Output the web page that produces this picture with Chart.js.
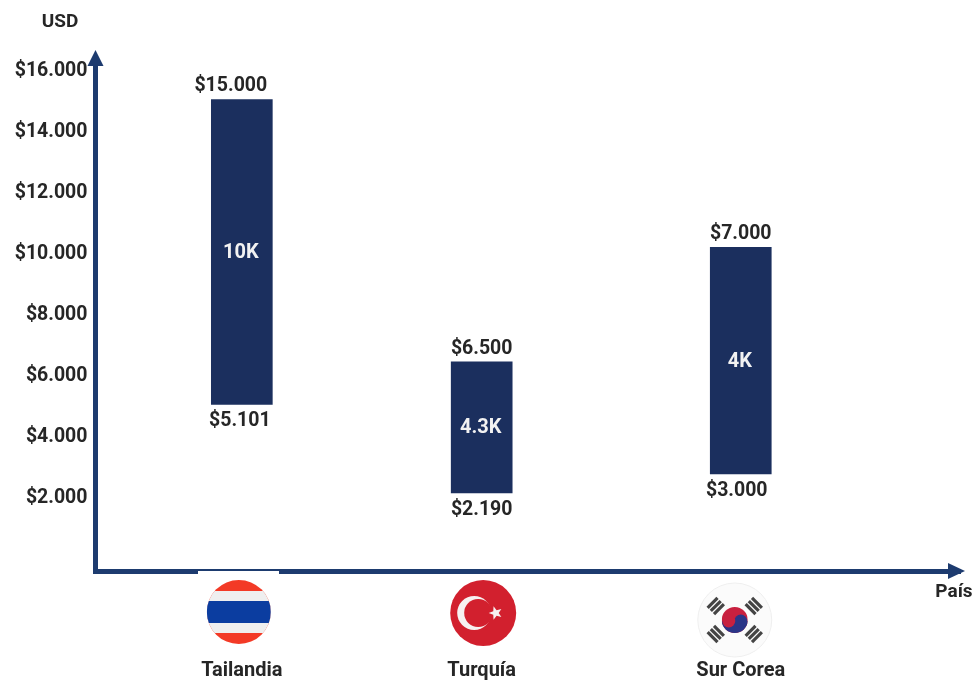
<!DOCTYPE html>
<html lang="es">
<head>
<meta charset="utf-8">
<title>Rango de precios por país</title>
<script src="https://cdn.jsdelivr.net/npm/chart.js@4/dist/chart.umd.min.js"></script>
<style>
  html, body { margin: 0; background: #fff; }
  #grafico { display: block; }
</style>
</head>
<body>
<canvas id="grafico" width="975" height="682"></canvas>
<script>
// Datos
const paises = ['Tailandia', 'Turquía', 'Sur Corea'];
const ordenX = [1, 2, 3.08];            // los paises no estan equidistantes
const barraMin = [5000, 2100, 2720];    // base de cada barra segun el eje
const barraMax = [15000, 6400, 10150];  // tope de cada barra segun el eje
const textoMin = ['$5.101', '$2.190', '$3.000'];
const textoMax = ['$15.000', '$6.500', '$7.000'];
const textoDif = ['10K', '4.3K', '4K'];
const ticksY = [2000, 4000, 6000, 8000, 10000, 12000, 14000, 16000];
const textoTicksY = ['$2.000', '$4.000', '$6.000', '$8.000', '$10.000', '$12.000', '$14.000', '$16.000'];

const AZUL = '#1b2f5e';
const EJE = '#1d3b6f';
const TEXTO = '#262626';
const FUENTE = 'Roboto, sans-serif';

function circulo(ctx, x, y, r, fn){
  ctx.save();
  ctx.beginPath();
  ctx.arc(x, y, r, 0, Math.PI * 2);
  ctx.clip();
  fn();
  ctx.restore();
}

function banderaTailandia(ctx, x, y){
  const r = 32;
  circulo(ctx, x, y, r, () => {
    ctx.fillStyle = '#f33a26'; ctx.fillRect(x - r, y - r, r * 2, r * 2);
    ctx.fillStyle = '#efefef'; ctx.fillRect(x - r, y - 21, r * 2, 42);
    ctx.fillStyle = '#0b3da0'; ctx.fillRect(x - r, y - 11, r * 2, 22);
  });
}

function estrella(ctx, x, y, rExt, rInt){
  ctx.beginPath();
  for (let i = 0; i < 10; i++){
    const rad = i % 2 ? rInt : rExt;
    const ang = i * Math.PI / 5;  // punta hacia la izquierda
    const px = x - Math.cos(ang) * rad;
    const py = y - Math.sin(ang) * rad;
    if (i === 0) ctx.moveTo(px, py); else ctx.lineTo(px, py);
  }
  ctx.closePath();
  ctx.fill();
}

function banderaTurquia(ctx, x, y){
  ctx.fillStyle = '#d2202e';
  ctx.beginPath(); ctx.arc(x, y, 33, 0, Math.PI * 2); ctx.fill();
  ctx.fillStyle = '#f7f1f1';
  ctx.beginPath(); ctx.arc(x - 9, y, 17, 0, Math.PI * 2); ctx.fill();
  ctx.fillStyle = '#d2202e';
  ctx.beginPath(); ctx.arc(x - 5, y, 14, 0, Math.PI * 2); ctx.fill();
  ctx.fillStyle = '#f7f1f1';
  estrella(ctx, x + 12.5, y, 7, 3);
}

// cada trigrama son tres franjas cortas
function trigrama(ctx, x, y, ang){
  ctx.save();
  ctx.translate(x, y);
  ctx.rotate(ang);
  ctx.fillStyle = '#444';
  for (let i = -1; i <= 1; i++) ctx.fillRect(-7, i * 4.5 - 1.6, 14, 3.2);
  ctx.restore();
}

function banderaCorea(ctx, x, y){
  ctx.fillStyle = '#fbfbfb';
  ctx.strokeStyle = '#efefef';
  ctx.lineWidth = 1;
  ctx.beginPath(); ctx.arc(x, y, 37, 0, Math.PI * 2); ctx.fill(); ctx.stroke();
  const dx = 19, dy = 14, r = 13;
  trigrama(ctx, x - dx, y - dy, -Math.PI / 4);
  trigrama(ctx, x + dx, y - dy, Math.PI / 4);
  trigrama(ctx, x - dx, y + dy, Math.PI / 4);
  trigrama(ctx, x + dx, y + dy, -Math.PI / 4);
  circulo(ctx, x, y, r, () => {
    ctx.fillStyle = '#c8203f'; ctx.fillRect(x - r, y - r, r * 2, r * 2);
    ctx.fillStyle = '#2b3588'; ctx.fillRect(x - r, y + 1, r * 2, r);
    ctx.beginPath(); ctx.arc(x + 6, y + 1, 6.5, 0, Math.PI * 2); ctx.fill();
    ctx.fillStyle = '#c8203f';
    ctx.beginPath(); ctx.arc(x - 6, y + 1, 6.5, 0, Math.PI * 2); ctx.fill();
  });
}

// Flechas de los ejes, banderas y rotulos de las barras
const decoracion = {
  id: 'decoracion',
  afterDraw(chart){
    const { ctx, chartArea: a, scales } = chart;
    const barras = chart.getDatasetMeta(0).data;

    // la imagen de la bandera tapa media linea del eje
    ctx.fillStyle = '#fff';
    ctx.fillRect(198, a.bottom, 81, 4);

    ctx.fillStyle = EJE;
    ctx.beginPath();
    ctx.moveTo(a.left, 50); ctx.lineTo(a.left - 8, 66); ctx.lineTo(a.left + 8, 66);
    ctx.closePath(); ctx.fill();
    ctx.beginPath();
    ctx.moveTo(a.right + 5, a.bottom); ctx.lineTo(a.right - 12, a.bottom - 8); ctx.lineTo(a.right - 12, a.bottom + 8);
    ctx.closePath(); ctx.fill();

    banderaTailandia(ctx, scales.x.getPixelForValue(ordenX[0]) - 3, 612);
    banderaTurquia(ctx, scales.x.getPixelForValue(ordenX[1]) + 1.5, 613);
    banderaCorea(ctx, scales.x.getPixelForValue(ordenX[2]) - 6, 620);

    ctx.textAlign = 'center';
    ctx.textBaseline = 'middle';
    ctx.font = 'bold 19.5px ' + FUENTE;
    ctx.fillStyle = TEXTO;
    barras.forEach((b, i) => {
      ctx.fillText(textoMax[i], b.x - (i === 0 ? 11 : 0), b.y - 13);
      ctx.fillText(textoMin[i], b.x - (i === 2 ? 4 : 0) - (i === 0 ? 2 : 0), b.base + 17);
    });
    ctx.font = 'bold 20px ' + FUENTE;
    ctx.fillStyle = '#f2f2f2';
    barras.forEach((b, i) => {
      ctx.fillText(textoDif[i], b.x - 1, (b.y + b.base) / 2 + 1);
    });

    ctx.font = 'bold 19px ' + FUENTE;
    ctx.fillStyle = TEXTO;
    ctx.fillText('USD', 60, 22);
    ctx.fillText('País', 954, 592);
  }
};

new Chart(document.getElementById('grafico'), {
  type: 'bar',
  data: {
    datasets: [{
      data: ordenX.map((x, i) => ({ x, y: [barraMin[i], barraMax[i]] })),
      backgroundColor: AZUL,
      barThickness: 61
    }]
  },
  options: {
    responsive: false,
    animation: false,
    layout: { padding: { top: 58, right: 15, left: 0, bottom: 0 } },
    plugins: { legend: { display: false }, tooltip: { enabled: false } },
    scales: {
      x: {
        type: 'linear',
        offset: false,
        min: 0.39,
        max: 3.994,
        afterFit: (s) => { s.height = 111; },
        afterBuildTicks: (s) => { s.ticks = ordenX.map(value => ({ value })); },
        grid: { display: false, drawTicks: false, offset: false },
        border: { color: EJE, width: 5 },
        ticks: {
          padding: 88,
          autoSkip: false,
          maxRotation: 0,
          color: TEXTO,
          font: { family: FUENTE, size: 20, weight: 'bold' },
          callback: (v) => paises[ordenX.indexOf(v)]
        }
      },
      y: {
        min: -460,
        max: 16360,
        afterFit: (s) => { s.width = 95.5; },
        afterBuildTicks: (s) => { s.ticks = ticksY.map(value => ({ value })); },
        grid: { display: false, drawTicks: false },
        border: { color: EJE, width: 5 },
        ticks: {
          padding: 8,
          labelOffset: 2,
          autoSkip: false,
          color: TEXTO,
          font: { family: FUENTE, size: 19.5, weight: 'bold' },
          callback: (v) => textoTicksY[ticksY.indexOf(v)]
        }
      }
    }
  },
  plugins: [decoracion]
});
</script>
</body>
</html>
